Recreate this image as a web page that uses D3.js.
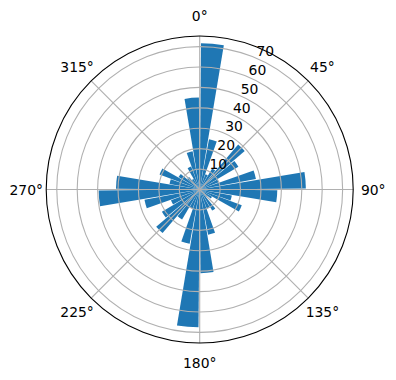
<!DOCTYPE html>
<html>
<head>
<meta charset="utf-8">
<script src="https://cdn.jsdelivr.net/npm/d3@7"></script>
<style>
  body { margin: 0; background: #fff; }
  text { font-family: "DejaVu Sans", sans-serif; font-size: 13.9px; fill: #000; }
</style>
</head>
<body>
<div id="container"></div>
<script>
/* DATA */
// bin centres in degrees (clockwise from north)
const binCenters = [5, 15, 25, 35, 45, 55, 65, 75, 85, 95, 105, 115,
  125, 135, 145, 155, 165, 175, 185, 195, 205, 215, 225, 235,
  245, 255, 265, 275, 285, 295, 305, 315, 325, 335, 345, 355];
// bar heights
const counts = [71.6, 25, 8, 12, 29, 22, 10, 28, 52, 38, 16, 22,
  7, 5, 12, 10, 22.5, 41, 67.5, 27, 10, 17, 28, 21.5,
  15, 27.5, 49.5, 41, 15, 21, 12, 8, 6, 12, 19, 45];
const rTicks = [10, 20, 30, 40, 50, 60, 70];
const thetaTicks = [0, 45, 90, 135, 180, 225, 270, 315];

/* CONSTANTS */
const width = 396, height = 380;
const cx = 199.7, cy = 189.5, R = 153.5;
const barWidth = 9; // degrees

const svg = d3.select("#container")
  .append("svg")
  .attr("width", width)
  .attr("height", height);

const g = svg.append("g").attr("transform", `translate(${cx},${cy})`);

/* SCALES */
const rScale = d3.scaleLinear()
  .domain([0, d3.max(counts) * 1.05])
  .range([0, R]);
const rad = d => d * Math.PI / 180;

// bars
const arc = d3.arc().innerRadius(0);
g.selectAll(".bar")
  .data(binCenters.map((c, i) => ({ c, v: counts[i] })))
  .join("path")
  .attr("class", "bar")
  .attr("d", d => arc({
    outerRadius: rScale(d.v),
    startAngle: rad(d.c - barWidth / 2),
    endAngle: rad(d.c + barWidth / 2)
  }))
  .attr("fill", "#1f77b4");

// grid rings (drawn over the bars like matplotlib does)
g.selectAll(".ring")
  .data(rTicks)
  .join("circle")
  .attr("r", d => rScale(d))
  .attr("fill", "none")
  .attr("stroke", "#b0b0b0")
  .attr("stroke-width", 1.1);

// spokes
g.selectAll(".spoke")
  .data(thetaTicks)
  .join("line")
  .attr("x1", 0).attr("y1", 0)
  .attr("x2", d => R * Math.sin(rad(d)))
  .attr("y2", d => -R * Math.cos(rad(d)))
  .attr("stroke", "#b0b0b0")
  .attr("stroke-width", 1.1);

// outer frame
g.append("circle")
  .attr("r", R)
  .attr("fill", "none")
  .attr("stroke", "#000")
  .attr("stroke-width", 1.1);

// angle labels
g.selectAll(".tlabel")
  .data(thetaTicks)
  .join("text")
  .attr("x", d => (R + 20) * Math.sin(rad(d)))
  .attr("y", d => -(R + 20) * Math.cos(rad(d)))
  .attr("dy", "0.36em")
  .attr("text-anchor", "middle")
  .text(d => d + "°");

// radial labels at 22.5 deg
g.selectAll(".rlabel")
  .data(rTicks)
  .join("text")
  .attr("x", d => rScale(d) * Math.sin(rad(22.5)) + 2)
  .attr("y", d => -rScale(d) * Math.cos(rad(22.5)) - 1.5)
  .attr("text-anchor", "start")
  .text(d => d);
</script>
</body>
</html>
